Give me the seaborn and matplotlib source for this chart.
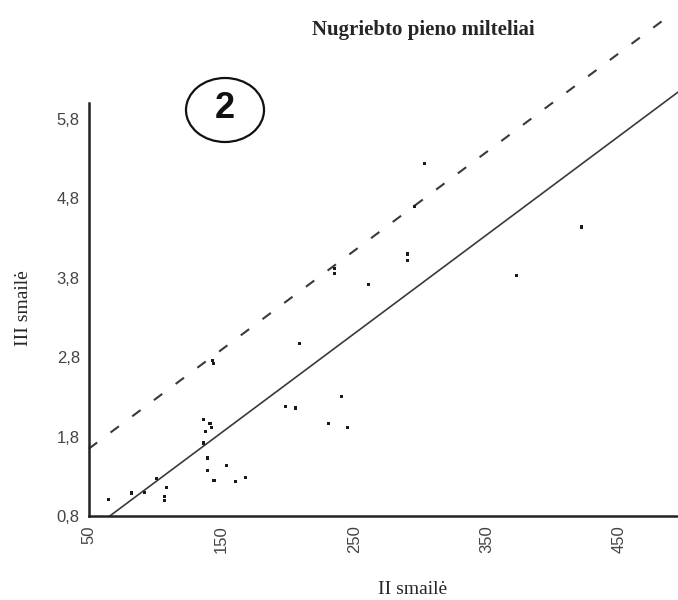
import numpy as np
import pandas as pd
import matplotlib
matplotlib.use("Agg")
import matplotlib.pyplot as plt
from matplotlib.patches import Ellipse
import seaborn as sns

# ---- data ----
peak2 = [64.6, 82.2, 91.7, 101.0, 108.8, 107.3, 107.3, 136.2, 141.3, 142.5, 138.0,
         136.2, 139.5, 139.5, 144.3, 153.8, 160.6, 168.4, 143.7, 143.0, 208.6,
         198.0, 205.9, 240.6, 230.5, 244.8, 235.0, 235.0, 260.6, 302.9, 295.3,
         290.3, 290.3, 372.0, 421.0]
peak3 = [1.01, 1.09, 1.10, 1.27, 1.16, 1.05, 0.99, 2.02, 1.97, 1.92, 1.87,
         1.72, 1.53, 1.37, 1.25, 1.44, 1.24, 1.29, 2.72, 2.76, 2.97,
         2.18, 2.16, 2.30, 1.97, 1.92, 3.92, 3.86, 3.72, 5.24, 4.70,
         4.10, 4.02, 3.83, 4.44]

# regression line and upper limit line: y = a + b*x
line_x = [65.8, 494.0]
solid_a, solid_b = 0.8 - 0.01247 * 65.8, 0.01247
dash_x = [50.0, 490.0]
dash_a, dash_b = 1.72 - 0.01247 * 55.8, 0.01247

x_ticks = [50, 150, 250, 350, 450]
y_ticks = [0.8, 1.8, 2.8, 3.8, 4.8, 5.8]
y_tick_labels = ["0,8", "1,8", "2,8", "3,8", "4,8", "5,8"]

title = "Nugriebto pieno milteliai"
xlabel = "II smailė"
ylabel = "III smailė"
panel = "2"

sns.set_style("white")
plt.rcParams["font.family"] = ["Liberation Sans", "DejaVu Sans"]

fig = plt.figure(figsize=(6.78, 6.0), dpi=100)
ax = fig.add_axes([0.131, 0.14, 0.869, 0.688])

pts = pd.DataFrame({"x": peak2, "y": peak3})
sns.scatterplot(data=pts, x="x", y="y", ax=ax, marker="s", s=5, color="#1a1a1a",
                edgecolor="none", zorder=3)

lx = np.array(line_x)
solid = pd.DataFrame({"x": lx, "y": solid_a + solid_b * lx})
dx = np.array(dash_x)
dashed = pd.DataFrame({"x": dx, "y": dash_a + dash_b * dx})
sns.lineplot(data=solid, x="x", y="y", ax=ax, color="#3a3a3a", linewidth=1.2,
             clip_on=False)
sns.lineplot(data=dashed, x="x", y="y", ax=ax, color="#3a3a3a", linewidth=1.5,
             dashes=False, clip_on=False, linestyle=(0, (5, 8)))

ax.set_xlim(50, 494)
ax.set_ylim(0.8, 6.0)
ax.set_xticks(x_ticks)
ax.set_xticklabels([str(v) for v in x_ticks], rotation=90, fontsize=12,
                   color="#444444")
ax.set_yticks(y_ticks)
ax.set_yticklabels(y_tick_labels, fontsize=12, color="#444444")
ax.tick_params(axis="both", direction="inout", length=5, width=1.2, color="#222222",
               pad=4)

for s in ["top", "right"]:
    ax.spines[s].set_visible(False)
for s in ["left", "bottom"]:
    ax.spines[s].set_color("#222222")
    ax.spines[s].set_linewidth(1.8)

ax.set_xlabel("")
ax.set_ylabel("")
fig.text(423 / 678, 1 - 30 / 600, title, ha="center", va="center",
         family=["Liberation Serif"], fontweight="bold", fontsize=15)
fig.text(413 / 678, 1 - 589 / 600, xlabel, ha="center", va="center",
         family=["Liberation Serif"], fontsize=14)
fig.text(23 / 678, 1 - 308 / 600, ylabel, ha="center", va="center", rotation=90,
         family=["Liberation Serif"], fontsize=14)

# circled panel number
fig.patches.append(Ellipse((225 / 678, 1 - 110 / 600), 78 / 678, 64 / 600,
                           transform=fig.transFigure, fill=False,
                           edgecolor="#111111", linewidth=1.6))
fig.text(225 / 678, 1 - 109 / 600, panel, ha="center", va="center",
         fontsize=26, fontweight="heavy", color="#111111")

fig.savefig("out.png", dpi=100)
